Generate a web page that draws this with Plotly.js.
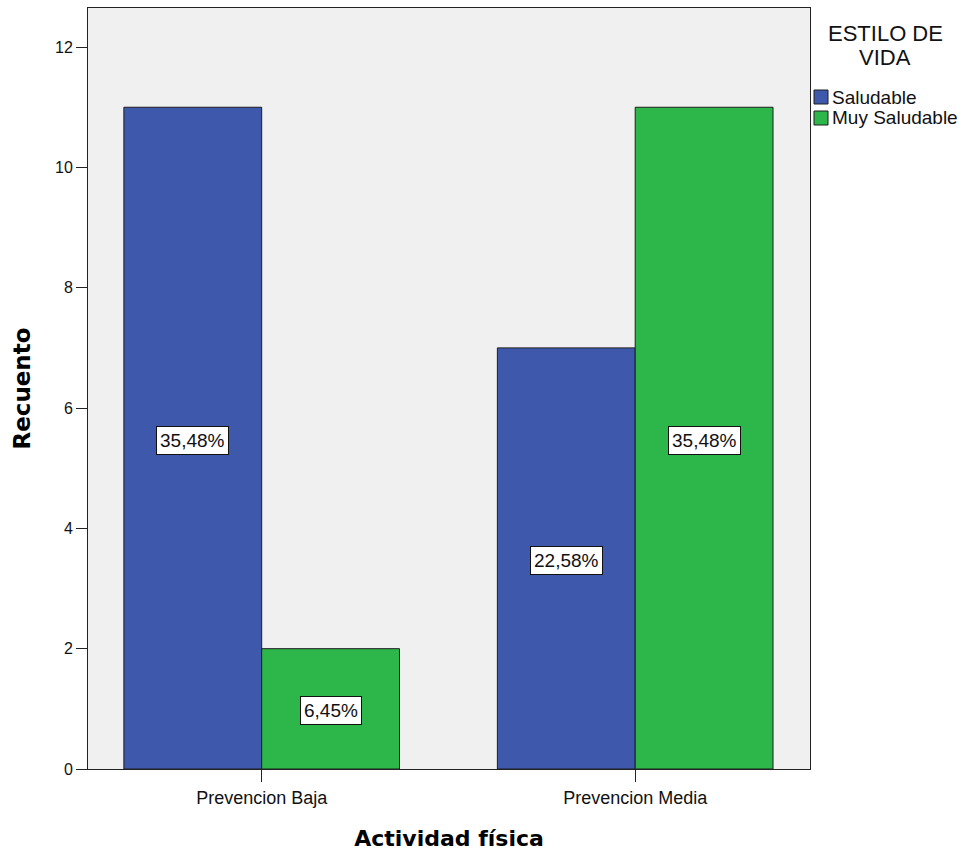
<!DOCTYPE html>
<html>
<head>
<meta charset="utf-8">
<script src="https://cdn.plot.ly/plotly-3.0.1.min.js"></script>
<style>html,body{margin:0;padding:0;background:#fff;}#chart{width:966px;height:852px;}</style>
</head>
<body>
<div id="chart"></div>
<script>
const categories = ["Prevencion Baja", "Prevencion Media"];
const seriesNames = ["Saludable", "Muy Saludable"];
const saludable = [11, 7];
const muySaludable = [2, 11];
const saludablePct = ["35,48%", "22,58%"];
const muySaludablePct = ["6,45%", "35,48%"];
const yTicks = [0, 2, 4, 6, 8, 10, 12];
const legendTitle = ["ESTILO DE", "VIDA"];

const colors = ["#3E58AC", "#2DB74A"];
const bargap = 0.262;
const values = [saludable, muySaludable];
const pcts = [saludablePct, muySaludablePct];

// plot area in pixels (for paper-coordinate legend placement)
const W = 966, H = 852;
const M = {l: 88, r: 156, t: 8, b: 83};
const pw = W - M.l - M.r, ph = H - M.t - M.b;
const px = v => (v - M.l) / pw;
const py = v => (H - M.b - v) / ph;

const traces = values.map((v, i) => ({
  type: "bar",
  name: seriesNames[i],
  x: categories,
  y: v,
  marker: {color: colors[i], line: {color: "#1e1e1e", width: 1}},
  hoverinfo: "x+y+name",
  showlegend: false
}));

const annotations = [];
const shapes = [];
const barW = (1 - bargap) / 2;
values.forEach((v, i) => {
  v.forEach((val, c) => {
    annotations.push({
      xref: "x", yref: "y",
      x: c + (i - 0.5) * barW,
      y: val / 2,
      yshift: -2,
      text: pcts[i][c],
      showarrow: false,
      font: {family: "Liberation Sans, Arial, sans-serif", size: 19, color: "#111"},
      bgcolor: "#ffffff",
      bordercolor: "#111",
      borderwidth: 1,
      borderpad: 3
    });
  });
});

// legend title
legendTitle.forEach((t, k) => {
  annotations.push({
    xref: "paper", yref: "paper",
    x: px(885), y: py(34 + 23 * k),
    xanchor: "center", yanchor: "middle",
    text: t, showarrow: false,
    font: {family: "Liberation Sans, Arial, sans-serif", size: 22, color: "#111"}
  });
});
// legend items
seriesNames.forEach((n, i) => {
  const cy = 97 + 21 * i;
  shapes.push({
    type: "rect", xref: "paper", yref: "paper",
    x0: px(814), x1: px(828), y0: py(cy - 7), y1: py(cy + 7),
    fillcolor: colors[i], line: {color: "#1e1e1e", width: 1}
  });
  annotations.push({
    xref: "paper", yref: "paper",
    x: px(830), y: py(cy),
    xanchor: "left", yanchor: "middle",
    text: n, showarrow: false,
    font: {family: "Liberation Sans, Arial, sans-serif", size: 19, color: "#111"}
  });
});

const layout = {
  width: W, height: H,
  margin: M,
  paper_bgcolor: "#ffffff",
  plot_bgcolor: "#F0F0F0",
  barmode: "group",
  bargap: bargap,
  bargroupgap: 0,
  showlegend: false,
  xaxis: {
    type: "category",
    range: [-0.465, 1.468],
    showgrid: false,
    zeroline: false,
    showline: true, linecolor: "#222", linewidth: 1, mirror: true,
    ticks: "outside", ticklen: 12, tickcolor: "#222",
    tickfont: {family: "Liberation Sans, Arial, sans-serif", size: 18, color: "#111"},
    title: {text: "Actividad física", standoff: 24,
      font: {family: "DejaVu Sans, Verdana, sans-serif", size: 22, color: "#000", weight: "bold"}}
  },
  yaxis: {
    range: [0, 12.65],
    tickvals: yTicks,
    ticktext: yTicks.map(String),
    showgrid: false,
    zeroline: false,
    showline: true, linecolor: "#222", linewidth: 1, mirror: true,
    ticks: "outside", ticklen: 11, tickcolor: "#222",
    tickfont: {family: "Liberation Sans, Arial, sans-serif", size: 16, color: "#111"},
    title: {text: "Recuento", standoff: 17,
      font: {family: "DejaVu Sans, Verdana, sans-serif", size: 23, color: "#000", weight: "bold"}}
  },
  annotations: annotations,
  shapes: shapes
};

Plotly.newPlot("chart", traces, layout, {displayModeBar: false, staticPlot: true});
</script>
</body>
</html>
